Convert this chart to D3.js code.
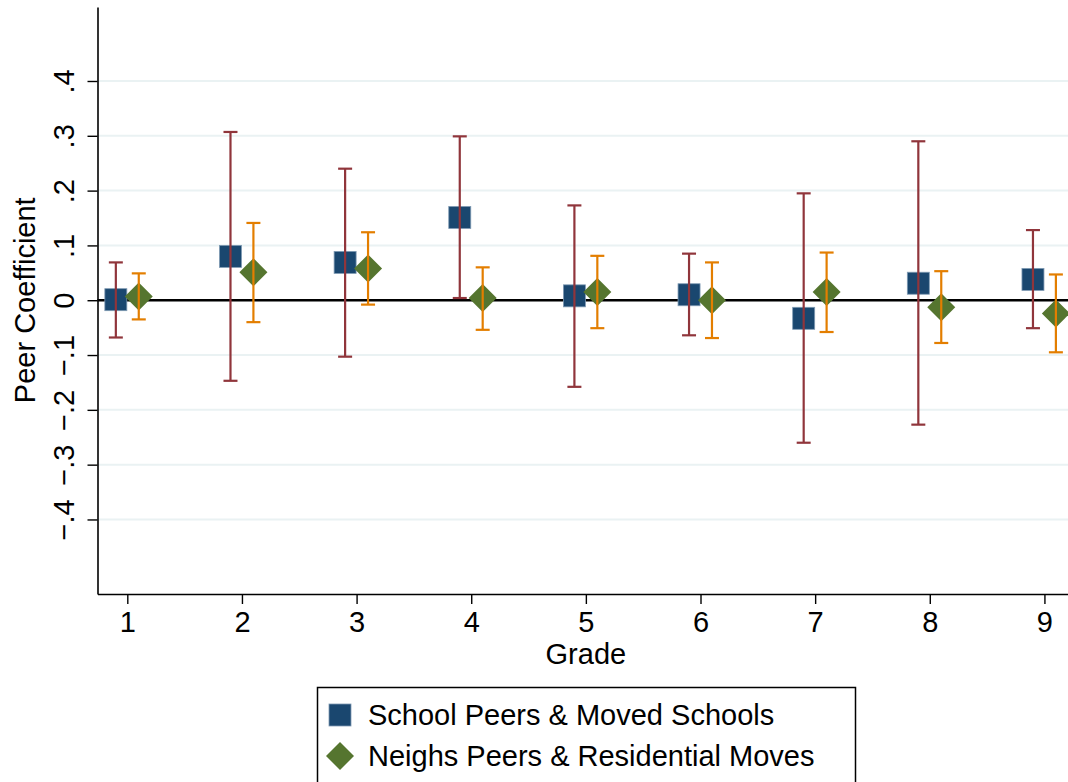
<!DOCTYPE html>
<html>
<head>
<meta charset="utf-8">
<script src="https://cdn.jsdelivr.net/npm/d3@7"></script>
<style>
  html, body { margin: 0; padding: 0; background: #fff; }
  svg { display: block; font-family: "Liberation Sans", Arial, Helvetica, sans-serif; }
</style>
</head>
<body>
<svg id="chart" width="1068" height="782"></svg>
<script>
// Grades on the x axis
const grades = [1, 2, 3, 4, 5, 6, 7, 8, 9];

// School peers & moved schools: point estimate and 95% interval
const schoolCoef = [0.001, 0.080, 0.069, 0.151, 0.008, 0.010, -0.033, 0.031, 0.038];
const schoolLow  = [-0.068, -0.147, -0.103, 0.004, -0.158, -0.064, -0.260, -0.227, -0.051];
const schoolHigh = [0.069, 0.307, 0.240, 0.299, 0.173, 0.085, 0.195, 0.290, 0.128];

// Neighbourhood peers & residential moves: point estimate and 95% interval
const neighCoef = [0.007, 0.051, 0.058, 0.004, 0.015, 0.000, 0.015, -0.013, -0.024];
const neighLow  = [-0.035, -0.040, -0.008, -0.054, -0.051, -0.069, -0.058, -0.078, -0.095];
const neighHigh = [0.049, 0.141, 0.124, 0.060, 0.081, 0.069, 0.087, 0.053, 0.047];

// Axis ticks and labels
const yTicks = [-0.4, -0.3, -0.2, -0.1, 0, 0.1, 0.2, 0.3, 0.4];
const yTickLabels = ["\u2212.4", "\u2212.3", "\u2212.2", "\u2212.1", "0", ".1", ".2", ".3", ".4"];
const seriesNames = ["School Peers & Moved Schools", "Neighs Peers & Residential Moves"];

const svg = d3.select("#chart");
const FONT = 29;

const plot = { left: 97.5, top: 7, bottom: 594 };
const x = d3.scaleLinear().domain([0.74, 9.26]).range([plot.left, plot.left + 8.52 * 114.64]);
const y = d3.scaleLinear().domain([-0.536, 0.535]).range([plot.bottom, plot.top]);
const right = 1068;

const colors = {
  navy: "#1a476f",
  maroon: "#90353b",
  green: "#55752f",
  orange: "#e37e00",
  grid: "#eaf2f3"
};

// Horizontal gridlines
svg.append("g")
  .selectAll("line")
  .data(yTicks)
  .join("line")
  .attr("x1", plot.left).attr("x2", right)
  .attr("y1", d => y(d)).attr("y2", d => y(d))
  .attr("stroke", colors.grid)
  .attr("stroke-width", 2);

// Reference line at zero
svg.append("line")
  .attr("x1", plot.left).attr("x2", right)
  .attr("y1", y(0)).attr("y2", y(0))
  .attr("stroke", "#000")
  .attr("stroke-width", 2.4);

// Y axis
const yAxis = svg.append("g")
  .attr("transform", `translate(${plot.left},0)`)
  .call(d3.axisLeft(y).tickValues(yTicks).tickSize(10).tickSizeOuter(0)
    .tickFormat((d, i) => yTickLabels[i]));
yAxis.select(".domain").attr("stroke", "#000").attr("stroke-width", 1.6);
yAxis.selectAll(".tick line").attr("stroke", "#000").attr("stroke-width", 1.4);
yAxis.selectAll(".tick text")
  .attr("font-size", FONT)
  .attr("fill", "#000")
  .attr("text-anchor", "middle")
  .attr("dy", null)
  .attr("x", null)
  .attr("transform", "translate(-31,0) rotate(-90)")
  .attr("dominant-baseline", "middle");

// X axis
const xAxis = svg.append("g")
  .attr("transform", `translate(0,${plot.bottom})`)
  .call(d3.axisBottom(x).tickValues(grades).tickSize(10).tickSizeOuter(0)
    .tickFormat(d3.format("d")));
xAxis.select(".domain").attr("stroke", "#000").attr("stroke-width", 1.6);
xAxis.selectAll(".tick line").attr("stroke", "#000").attr("stroke-width", 1.4);
xAxis.selectAll(".tick text")
  .attr("font-size", FONT)
  .attr("fill", "#000")
  .attr("y", 38)
  .attr("dy", null);

// Axis titles
svg.append("text")
  .attr("x", (x(1) + x(9)) / 2)
  .attr("y", 664)
  .attr("text-anchor", "middle")
  .attr("font-size", FONT)
  .text("Grade");

svg.append("text")
  .attr("transform", `translate(35,${y(0)}) rotate(-90)`)
  .attr("text-anchor", "middle")
  .attr("font-size", FONT)
  .text("Peer Coefficient");

// Data rows
const school = grades.map((g, i) => ({ g, est: schoolCoef[i], lo: schoolLow[i], hi: schoolHigh[i] }));
const neigh = grades.map((g, i) => ({ g, est: neighCoef[i], lo: neighLow[i], hi: neighHigh[i] }));
const OFF = 0.1;
const SQ = 22;
const DIAMOND = d3.symbol().type(d3.symbolDiamond2).size(500);

// Markers
svg.append("g")
  .selectAll("rect")
  .data(school)
  .join("rect")
  .attr("x", d => x(d.g - OFF) - SQ / 2)
  .attr("y", d => y(d.est) - SQ / 2)
  .attr("width", SQ).attr("height", SQ)
  .attr("fill", colors.navy)
  .attr("stroke", "#7f9ab3")
  .attr("stroke-width", 0.8);

svg.append("g")
  .selectAll("path")
  .data(neigh)
  .join("path")
  .attr("d", DIAMOND)
  .attr("transform", d => `translate(${x(d.g + OFF)},${y(d.est)})`)
  .attr("fill", colors.green);

// Capped interval bars
function drawCaps(data, offset, color) {
  const g = svg.append("g").attr("stroke", color).attr("stroke-width", 2.2).attr("fill", "none");
  const cx = d => x(d.g + offset);
  g.selectAll("line.v").data(data).join("line").attr("class", "v")
    .attr("x1", cx).attr("x2", cx)
    .attr("y1", d => y(d.lo)).attr("y2", d => y(d.hi));
  g.selectAll("line.t").data(data).join("line").attr("class", "t")
    .attr("x1", d => cx(d) - 7).attr("x2", d => cx(d) + 7)
    .attr("y1", d => y(d.hi)).attr("y2", d => y(d.hi));
  g.selectAll("line.b").data(data).join("line").attr("class", "b")
    .attr("x1", d => cx(d) - 7).attr("x2", d => cx(d) + 7)
    .attr("y1", d => y(d.lo)).attr("y2", d => y(d.lo));
}
drawCaps(school, -OFF, colors.maroon);
drawCaps(neigh, OFF, colors.orange);

// Legend
const legend = svg.append("g");
legend.append("rect")
  .attr("x", 317.5).attr("y", 687.5)
  .attr("width", 538).attr("height", 110)
  .attr("fill", "#fff")
  .attr("stroke", "#000")
  .attr("stroke-width", 1.5);
legend.append("rect")
  .attr("x", 340 - SQ / 2).attr("y", 715 - SQ / 2)
  .attr("width", SQ).attr("height", SQ)
  .attr("fill", colors.navy)
  .attr("stroke", "#7f9ab3")
  .attr("stroke-width", 0.8);
legend.append("path")
  .attr("d", DIAMOND)
  .attr("transform", "translate(340,756)")
  .attr("fill", colors.green);
legend.selectAll("text.item")
  .data(seriesNames)
  .join("text")
  .attr("class", "item")
  .attr("x", 368)
  .attr("y", (d, i) => 715 + i * 41)
  .attr("dominant-baseline", "central")
  .attr("font-size", FONT)
  .text(d => d);
</script>
</body>
</html>
